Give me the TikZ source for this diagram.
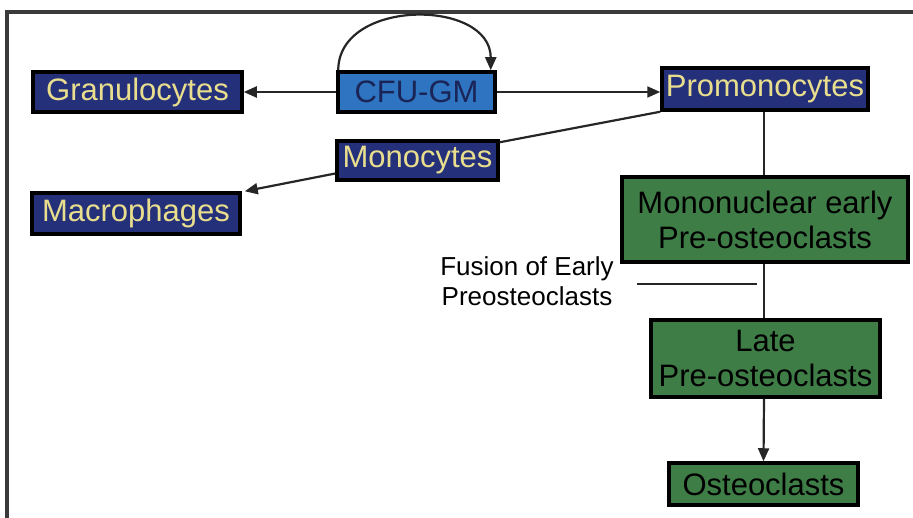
\documentclass[tikz,border=0pt]{standalone}
\usepackage{fontspec}
\setmainfont{Liberation Sans}
\usetikzlibrary{arrows.meta}
\definecolor{navybox}{HTML}{25307A}
\definecolor{cfubox}{HTML}{2E74C0}
\definecolor{greenbox}{HTML}{3F7D47}
\definecolor{yeltext}{HTML}{E8DE8E}
\definecolor{cfutext}{HTML}{1A2456}
\definecolor{framegray}{HTML}{3A3A3A}
\begin{document}
\begin{tikzpicture}[x=1pt,y=-1pt,
  box/.style={draw=black,line width=3.5pt,inner sep=0pt,font=\fontsize{31}{33}\selectfont},
  navy/.style={box,fill=navybox,text=yeltext},
  cfu/.style={box,fill=cfubox,text=cfutext},
  grn/.style={box,fill=greenbox,text=black,align=center,font=\fontsize{31}{35}\selectfont},
  conn/.style={line width=2.2pt,draw=black!85},
  arr/.style={conn,-{Triangle[length=13pt,width=11pt]}}]
\useasboundingbox (0,0) rectangle (913,518);
\draw[framegray,line width=4pt] (7,518) -- (7,12) -- (913,12);
\node[navy,minimum width=209pt,minimum height=40pt] (gran) at (137.5,92) {Granulocytes};
\node[cfu,minimum width=157pt,minimum height=40pt] (cfu) at (416.5,92) {CFU-GM};
\node[navy,minimum width=206pt,minimum height=42pt] (promo) at (765,89) {Promonocytes};
\node[navy,minimum width=161pt,minimum height=39pt] (mono) at (417.5,160.5) {Monocytes};
\node[navy,minimum width=208pt,minimum height=41pt] (macro) at (136,213.5) {Macrophages};
\node[grn,minimum width=286pt,minimum height=85pt] (early) at (765,219.5) {Mononuclear early\\Pre-osteoclasts};
\node[grn,minimum width=229pt,minimum height=77pt] (late) at (765.5,358.5) {Late\\Pre-osteoclasts};
\node[box,fill=greenbox,text=black,minimum width=189pt,minimum height=42pt] (osteo) at (763.5,484) {Osteoclasts};
\node[align=center,font=\fontsize{26}{30}\selectfont,inner sep=0pt] (fusion) at (527,281) {Fusion of Early\\Preosteoclasts};
\coordinate (fl1) at (637,284);
\coordinate (fl2) at (757,284);
\draw[conn] (fl1) -- (fl2);
% connectors
\draw[arr] (cfu.west) -- (gran.east);
\draw[arr] (cfu.east) -- (promo.west |- cfu.east);
\draw[arr] ([xshift=2pt]cfu.north west) .. controls ([xshift=2pt,yshift=72pt]cfu.north west) and ([xshift=-6pt,yshift=72pt]cfu.north east) .. ([xshift=-6pt]cfu.north east);
\draw[conn] (promo.south west) -- ([yshift=-3pt]mono.north east);
\draw[arr] ([yshift=-13pt]mono.west) -- ([xshift=3pt]macro.north east);
\draw[conn] ([xshift=-1pt]promo.south) -- ([xshift=-1pt]early.north);
\draw[conn] ([xshift=-1pt]early.south) -- ([xshift=-1.5pt]late.north);
\draw[arr] ([xshift=-1.5pt]late.south) -- (osteo.north);
\end{tikzpicture}
\end{document}
